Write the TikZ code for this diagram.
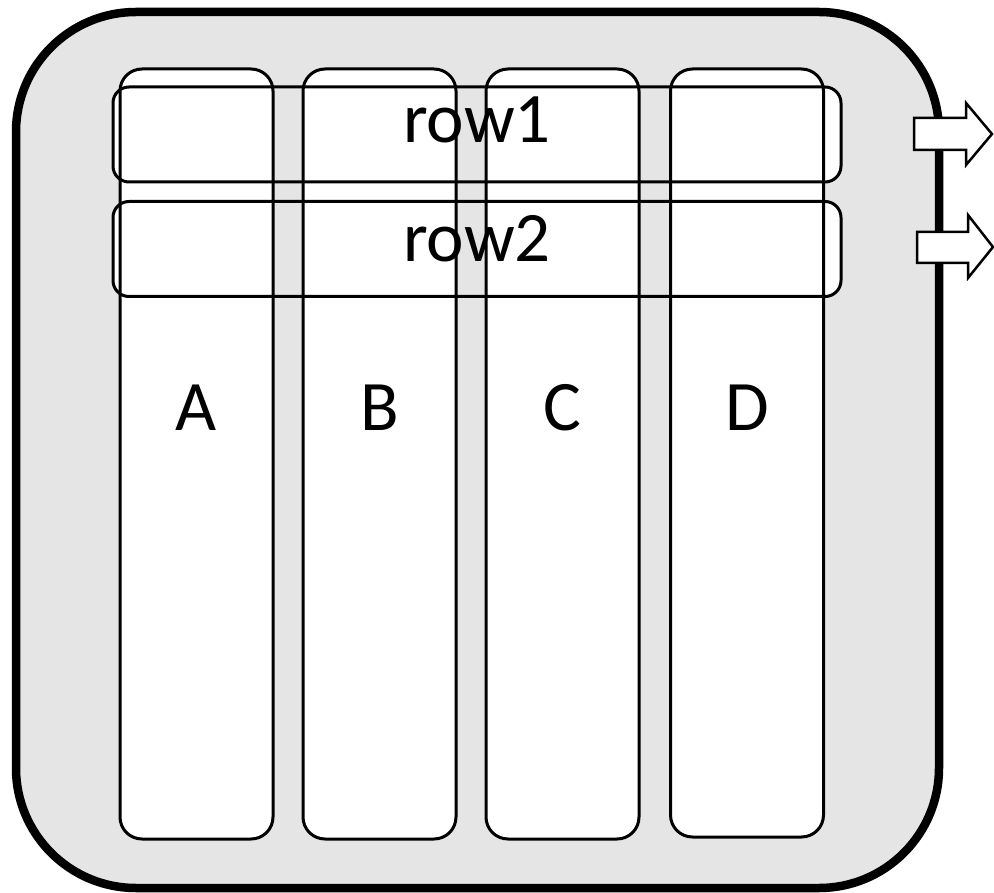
\documentclass[tikz,border=0pt]{standalone}
\usepackage{fontspec}
\setmainfont{Carlito}
\definecolor{bg}{RGB}{229,229,229}
\begin{document}
\begin{tikzpicture}[x=1pt,y=-1pt,
 colbox/.style={draw, line width=3pt, fill=white, rounded corners=22pt, inner sep=0pt, minimum width=153pt, minimum height=770pt},
 rowbox/.style={draw, line width=3pt, rounded corners=16pt, inner sep=0pt, minimum width=728pt, minimum height=95pt},
 lbl/.style={inner sep=0pt, font=\fontsize{71}{85}\selectfont},
 blockarrow/.style={draw, line width=2.5pt, fill=white, line join=miter}]
\useasboundingbox (0,0) rectangle (994,893);
\fill[white] (0,0) rectangle (994,893);
\draw[line width=8.5pt, fill=bg, rounded corners=120pt] (16,12) rectangle (939,888);
% white inside rows
\fill[white, rounded corners=16pt] (113,87) rectangle (841,182);
\fill[white, rounded corners=16pt] (113,201) rectangle (841,297);
% gaps between columns stay grey
\foreach \a/\b in {273/303, 456/486, 639/671}{
  \fill[bg] (\a,80) rectangle (\b,300);
}
% columns
\node[colbox] (A) at (196.5,454) {};
\node[colbox] (B) at (379.5,454) {};
\node[colbox] (C) at (562.5,454) {};
\node[colbox, minimum height=768pt] (D) at (747,453) {};
% rows
\node[rowbox] (row1) at (477,134.5) {};
\node[rowbox] (row2) at (477,249) {};
% labels
\node[lbl] (t1) at (477,120) {row1};
\node[lbl] (t2) at (477,239) {row2};
\node[lbl] (tA) at (196.5,408) {A};
\node[lbl] (tB) at (379.5,408) {B};
\node[lbl] (tC) at (562.5,408) {C};
\node[lbl] (tD) at (747,408) {D};
% block arrows
\draw[blockarrow] (914,118) -- (966,118) -- (966,103) -- (992,134) -- (966,165) -- (966,150) -- (914,150) -- cycle;
\draw[blockarrow] (917,232) -- (968,232) -- (968,215) -- (993,247) -- (968,278) -- (968,263) -- (917,263) -- cycle;
\end{tikzpicture}
\end{document}
